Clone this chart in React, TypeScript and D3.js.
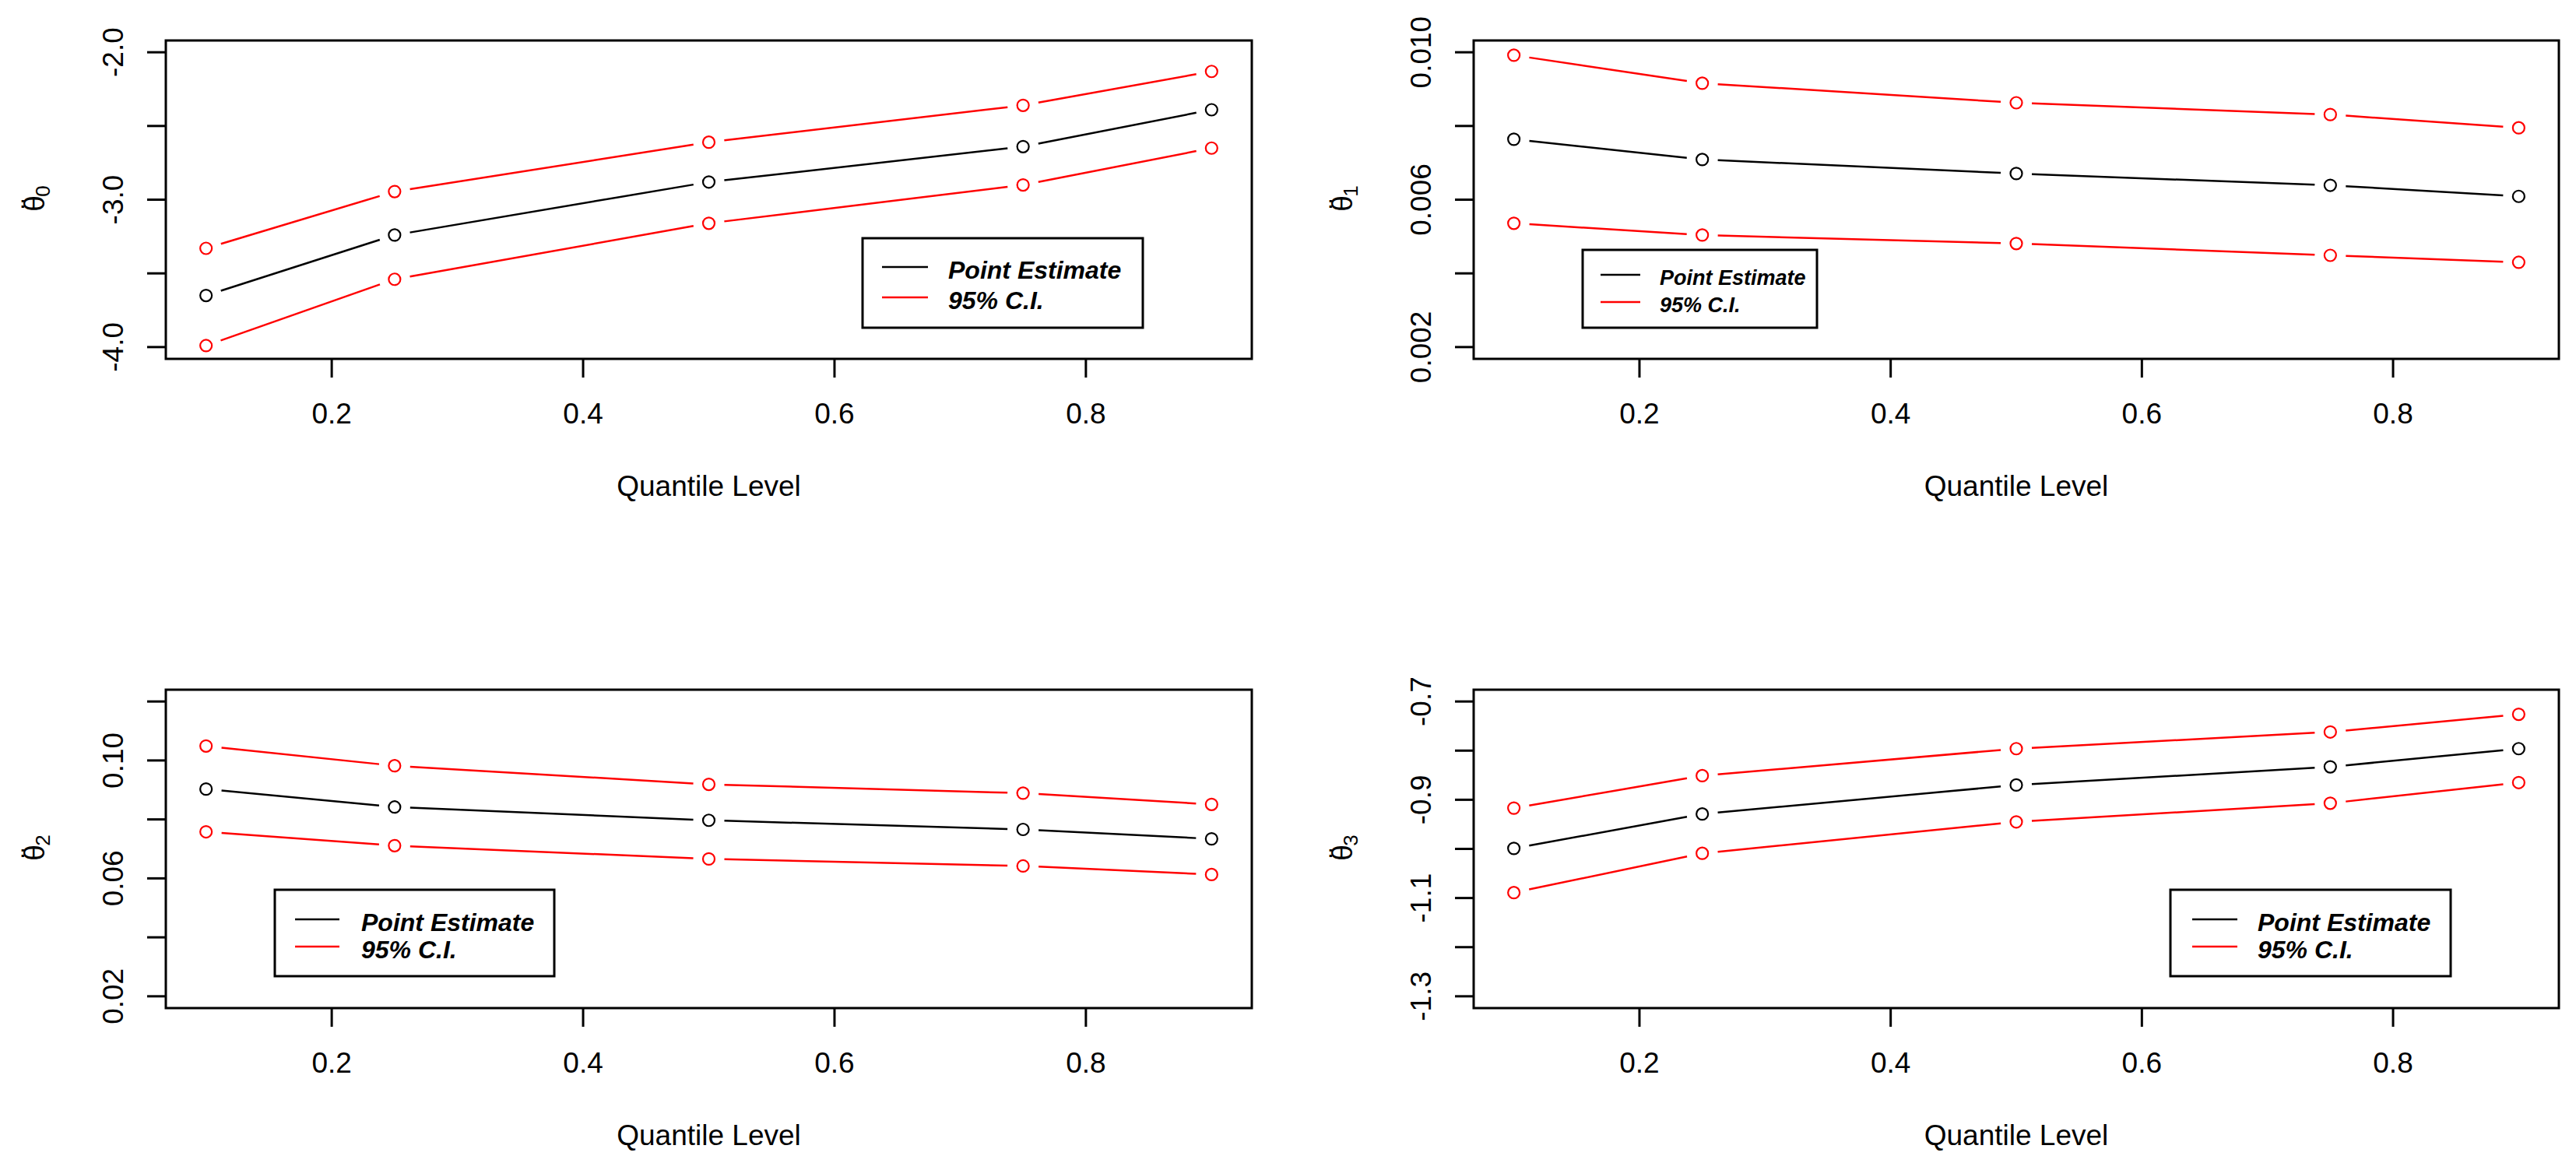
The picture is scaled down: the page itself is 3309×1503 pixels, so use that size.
import React from "react";
import * as d3 from "d3";

// ---------- data ----------
const quantiles = [0.1, 0.25, 0.5, 0.75, 0.9];
const xTicks = [0.2, 0.4, 0.6, 0.8];

const theta0Est = [-3.65, -3.24, -2.88, -2.64, -2.39];
const theta0Upper = [-3.33, -2.945, -2.61, -2.36, -2.13];
const theta0Lower = [-3.99, -3.54, -3.16, -2.9, -2.65];

const theta1Est = [0.00764, 0.00709, 0.00671, 0.00639, 0.00609];
const theta1Upper = [0.00992, 0.00916, 0.00863, 0.00831, 0.00795];
const theta1Lower = [0.00536, 0.00504, 0.00481, 0.00449, 0.0043];

const theta2Est = [0.0903, 0.0842, 0.0797, 0.0766, 0.0734];
const theta2Upper = [0.1049, 0.0982, 0.0919, 0.0889, 0.0851];
const theta2Lower = [0.0758, 0.0711, 0.0666, 0.0642, 0.0613];

const theta3Est = [-0.999, -0.929, -0.87, -0.833, -0.796];
const theta3Upper = [-0.917, -0.851, -0.796, -0.762, -0.726];
const theta3Lower = [-1.089, -1.009, -0.945, -0.907, -0.865];

const yLims = [
  [-4, -2],
  [0.002, 0.01],
  [0.02, 0.12],
  [-1.3, -0.7],
];
const yTickSets = [
  [-4, -3.5, -3, -2.5, -2],
  [0.002, 0.004, 0.006, 0.008, 0.01],
  [0.02, 0.04, 0.06, 0.08, 0.1, 0.12],
  [-1.3, -1.2, -1.1, -1.0, -0.9, -0.8, -0.7],
];
const yLabelSets = [
  [-4, -3, -2],
  [0.002, 0.006, 0.01],
  [0.02, 0.06, 0.1],
  [-1.3, -1.1, -0.9, -0.7],
];
const yLabelFormats = [".1f", ".3f", ".2f", ".1f"];
const subscripts = ["0", "1", "2", "3"];
const legendLabels = ["Point Estimate", "95% C.I."];
const xTitle = "Quantile Level";

// ---------- layout ----------
const W = 3309;
const H = 1503;
const FONT = "'Liberation Sans', Arial, Helvetica, sans-serif";
const panels = [
  { left: 213, right: 1608, top: 52, bottom: 461 },
  { left: 1893, right: 3287, top: 52, bottom: 461 },
  { left: 213, right: 1608, top: 886, bottom: 1295 },
  { left: 1893, right: 3287, top: 886, bottom: 1295 },
];
const legends = [
  { x0: 1108, y0: 306, x1: 1468, y1: 421, lx0: 1133, lx1: 1192, rows: [343, 382], tx: 1218, fs: 32 },
  { x0: 2033, y0: 321, x1: 2334, y1: 421, lx0: 2056, lx1: 2107, rows: [353, 388], tx: 2132, fs: 27 },
  { x0: 353, y0: 1143, x1: 712, y1: 1254, lx0: 379, lx1: 436, rows: [1181, 1216], tx: 464, fs: 32 },
  { x0: 2788, y0: 1143, x1: 3148, y1: 1254, lx0: 2816, lx1: 2874, rows: [1181, 1216], tx: 2900, fs: 32 },
];

const series = [
  [theta0Est, theta0Upper, theta0Lower],
  [theta1Est, theta1Upper, theta1Lower],
  [theta2Est, theta2Upper, theta2Lower],
  [theta3Est, theta3Upper, theta3Lower],
];
const seriesColors = ["#000000", "#FF0000", "#FF0000"];

function GapLine({ pts, color }: { pts: [number, number][]; color: string }) {
  const gap = 20;
  const segs: JSX.Element[] = [];
  for (let i = 0; i < pts.length - 1; i++) {
    const [x0, y0] = pts[i];
    const [x1, y1] = pts[i + 1];
    const len = Math.hypot(x1 - x0, y1 - y0);
    if (len <= 2 * gap) continue;
    const ux = (x1 - x0) / len;
    const uy = (y1 - y0) / len;
    segs.push(
      <line
        key={i}
        x1={x0 + ux * gap}
        y1={y0 + uy * gap}
        x2={x1 - ux * gap}
        y2={y1 - uy * gap}
        stroke={color}
        strokeWidth={2.5}
      />
    );
  }
  return (
    <g>
      {segs}
      {pts.map(([x, y], i) => (
        <circle key={"c" + i} cx={x} cy={y} r={7.5} fill="none" stroke={color} strokeWidth={2.2} />
      ))}
    </g>
  );
}

function Panel({ idx }: { idx: number }) {
  const p = panels[idx];
  const [lo, hi] = yLims[idx];
  const pad = (hi - lo) * 0.04;
  const x = d3.scaleLinear().domain([0.068, 0.932]).range([p.left, p.right]);
  const y = d3.scaleLinear().domain([lo - pad, hi + pad]).range([p.bottom, p.top]);
  const fmtRaw = d3.format(yLabelFormats[idx]);
  const fmt = (v: number) => fmtRaw(v).replace("\u2212", "-");
  const lg = legends[idx];
  const cx = (p.left + p.right) / 2;
  const cy = (p.top + p.bottom) / 2;
  const tickLen = 24;
  return (
    <g>
      {series[idx].map((vals, si) => (
        <GapLine
          key={si}
          color={seriesColors[si]}
          pts={quantiles.map((q, k) => [x(q), y(vals[k])] as [number, number])}
        />
      ))}
      <rect
        x={p.left}
        y={p.top}
        width={p.right - p.left}
        height={p.bottom - p.top}
        fill="none"
        stroke="#000"
        strokeWidth={3}
      />
      {/* x axis */}
      {xTicks.map((t) => (
        <g key={"xt" + t}>
          <line x1={x(t)} x2={x(t)} y1={p.bottom} y2={p.bottom + tickLen} stroke="#000" strokeWidth={3} />
          <text
            x={x(t)}
            y={p.bottom + 70}
            textAnchor="middle"
            dominantBaseline="central"
            fontSize={37}
            fontFamily={FONT}
          >
            {t.toFixed(1)}
          </text>
        </g>
      ))}
      <text x={cx} y={p.bottom + 163} textAnchor="middle" dominantBaseline="central" fontSize={37} fontFamily={FONT}>
        {xTitle}
      </text>
      {/* y axis */}
      {yTickSets[idx].map((t) => (
        <line key={"yt" + t} x1={p.left - tickLen} x2={p.left} y1={y(t)} y2={y(t)} stroke="#000" strokeWidth={3} />
      ))}
      {yLabelSets[idx].map((t) => (
        <text
          key={"yl" + t}
          transform={`translate(${p.left - 68},${y(t)}) rotate(-90)`}
          textAnchor="middle"
          dominantBaseline="central"
          fontSize={37}
          fontFamily={FONT}
        >
          {fmt(t)}
        </text>
      ))}
      <g transform={`translate(${p.left - 167},${cy}) rotate(-90)`} fontFamily={FONT}>
        <text x={-5} y={-2} textAnchor="middle" dominantBaseline="central" fontSize={37}>
          {"\u03B8"}
        </text>
        <text x={-5} y={-6} textAnchor="middle" dominantBaseline="central" fontSize={37}>
          {"\u00A8"}
        </text>
        <text x={11} y={9} textAnchor="middle" dominantBaseline="central" fontSize={26}>
          {subscripts[idx]}
        </text>
      </g>
      {/* legend */}
      <rect x={lg.x0} y={lg.y0} width={lg.x1 - lg.x0} height={lg.y1 - lg.y0} fill="#fff" stroke="#000" strokeWidth={3} />
      {legendLabels.map((lab, i) => (
        <g key={"lg" + i}>
          <line x1={lg.lx0} x2={lg.lx1} y1={lg.rows[i]} y2={lg.rows[i]} stroke={seriesColors[i]} strokeWidth={2.5} />
          <text
            x={lg.tx}
            y={lg.rows[i] + 4}
            dominantBaseline="central"
            fontSize={lg.fs}
            fontStyle="italic"
            fontWeight="bold"
            fontFamily={FONT}
          >
            {lab}
          </text>
        </g>
      ))}
    </g>
  );
}

export default function App() {
  return (
    <svg
      width={W}
      height={H}
      viewBox={`0 0 ${W} ${H}`}
      style={{ position: "absolute", left: 0, top: 0, background: "#fff" }}
    >
      <rect x={0} y={0} width={W} height={H} fill="#fff" />
      {panels.map((_, i) => (
        <Panel key={i} idx={i} />
      ))}
    </svg>
  );
}
